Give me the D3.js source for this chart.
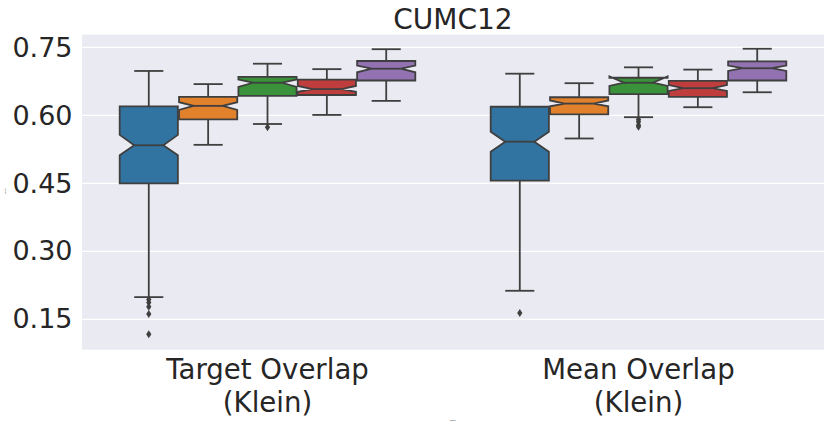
<!DOCTYPE html>
<html>
<head>
<meta charset="utf-8">
<script src="https://cdn.jsdelivr.net/npm/d3@7"></script>
<style>
  body { margin: 0; background: #fff; }
  text { font-family: "DejaVu Sans", sans-serif; fill: #262626; }
</style>
</head>
<body>
<script>
const categories = ['Target Overlap\n(Klein)', 'Mean Overlap\n(Klein)'];
const hues = ['h0', 'h1', 'h2', 'h3', 'h4'];
const colors = ['#3274a1', '#e1812c', '#3a923a', '#c03d3e', '#9372b2'];
const yTicks = [0.15, 0.30, 0.45, 0.60, 0.75];

// per category, per hue
const whiskerLow = [[0.199, 0.535, 0.581, 0.601, 0.632], [0.213, 0.549, 0.596, 0.618, 0.651]];
const q1 = [[0.450, 0.591, 0.643, 0.645, 0.677], [0.456, 0.602, 0.647, 0.641, 0.677]];
const notchLow = [[0.512, 0.612, 0.663, 0.652, 0.695], [0.520, 0.620, 0.665, 0.654, 0.698]];
const median = [[0.534, 0.621, 0.672, 0.658, 0.703], [0.542, 0.626, 0.672, 0.660, 0.704]];
const notchHigh = [[0.557, 0.629, 0.679, 0.665, 0.710], [0.564, 0.633, 0.686, 0.667, 0.710]];
const q3 = [[0.620, 0.641, 0.685, 0.679, 0.720], [0.619, 0.640, 0.683, 0.676, 0.719]];
const whiskerHigh = [[0.698, 0.669, 0.714, 0.702, 0.746], [0.692, 0.671, 0.706, 0.701, 0.747]];
const fliers = [
  [[0.194, 0.187, 0.178, 0.162, 0.117], [], [0.574], [], []],
  [[0.164], [], [0.591, 0.586, 0.579, 0.575], [], []]
];

const width = 831;
const height = 428;
const plot = { left: 82, right: 824, top: 34.7, bottom: 349.7 };
const lineColor = '#3f3f3f';

const svg = d3.select('body').append('svg')
  .attr('width', width)
  .attr('height', height);

const xScale = d3.scaleBand().domain(categories).range([plot.left, plot.right]);
const hueScale = d3.scaleBand().domain(hues).range([0, xScale.bandwidth() * 0.8]);
const yScale = d3.scaleLinear().domain([0.083, 0.778]).range([plot.bottom, plot.top]);

svg.append('rect')
  .attr('x', plot.left)
  .attr('y', plot.top)
  .attr('width', plot.right - plot.left)
  .attr('height', plot.bottom - plot.top)
  .attr('fill', '#eaeaf2');

svg.append('g')
  .selectAll('line')
  .data(yTicks)
  .join('line')
  .attr('x1', plot.left)
  .attr('x2', plot.right)
  .attr('y1', (d) => yScale(d))
  .attr('y2', (d) => yScale(d))
  .attr('stroke', '#fff')
  .attr('stroke-width', 1.3);

const yAxis = svg.append('g')
  .attr('transform', `translate(${plot.left}, 0)`)
  .call(d3.axisLeft(yScale).tickValues(yTicks).tickFormat(d3.format('.2f')).tickSize(0).tickPadding(9.5));
yAxis.select('.domain').remove();
yAxis.selectAll('text')
  .style('font-family', '"DejaVu Sans", sans-serif')
  .style('font-size', '27px')
  .attr('fill', '#262626');

const xAxis = svg.append('g')
  .attr('transform', `translate(0, ${plot.bottom})`)
  .call(d3.axisBottom(xScale).tickSize(0).tickFormat(''));
xAxis.select('.domain').remove();
xAxis.selectAll('.tick').each(function (d) {
  const t = d3.select(this).append('text')
    .attr('text-anchor', 'middle')
    .style('font-size', '27.6px');
  d.split('\n').forEach((line, i) => {
    t.append('tspan').attr('x', 0).attr('y', 29 + i * 33).text(line);
  });
});

const boxes = [];
categories.forEach((c, ci) => {
  hues.forEach((h, hi) => {
    boxes.push({ ci, hi, c, h });
  });
});

const boxGroup = svg.append('g');
boxes.forEach((b) => {
  const { ci, hi } = b;
  const slot = hueScale.bandwidth();
  const cx = xScale(b.c) + xScale.bandwidth() * 0.1 + hueScale(b.h) + slot / 2;
  const w = slot * 0.98;
  const left = cx - w / 2;
  const right = cx + w / 2;
  const capL = cx - w / 4;
  const capR = cx + w / 4;
  const g = boxGroup.append('g');

  // whiskers
  g.append('line')
    .attr('x1', cx).attr('x2', cx)
    .attr('y1', yScale(q1[ci][hi])).attr('y2', yScale(whiskerLow[ci][hi]));
  g.append('line')
    .attr('x1', cx).attr('x2', cx)
    .attr('y1', yScale(q3[ci][hi])).attr('y2', yScale(whiskerHigh[ci][hi]));
  // caps
  [whiskerLow[ci][hi], whiskerHigh[ci][hi]].forEach((v) => {
    g.append('line')
      .attr('x1', capL).attr('x2', capR)
      .attr('y1', yScale(v)).attr('y2', yScale(v));
  });
  g.selectAll('line').attr('stroke', lineColor).attr('stroke-width', 1.8);

  // notched box
  const pts = [
    [left, q1[ci][hi]], [right, q1[ci][hi]], [right, notchLow[ci][hi]], [capR, median[ci][hi]],
    [right, notchHigh[ci][hi]], [right, q3[ci][hi]], [left, q3[ci][hi]], [left, notchHigh[ci][hi]],
    [capL, median[ci][hi]], [left, notchLow[ci][hi]]
  ];
  const boxLine = d3.line().x((p) => p[0]).y((p) => yScale(p[1]));
  g.append('path')
    .attr('d', boxLine(pts) + 'Z')
    .attr('fill', colors[hi])
    .attr('stroke', lineColor)
    .attr('stroke-width', 1.8)
    .attr('stroke-linejoin', 'miter');

  // median
  g.append('line')
    .attr('x1', capL).attr('x2', capR)
    .attr('y1', yScale(median[ci][hi])).attr('y2', yScale(median[ci][hi]))
    .attr('stroke', lineColor)
    .attr('stroke-width', 1.8);

  // fliers (thin diamonds)
  g.selectAll('path.flier')
    .data(fliers[ci][hi])
    .join('path')
    .attr('class', 'flier')
    .attr('d', (v) => {
      const y = yScale(v);
      return `M${cx},${y - 4}L${cx + 2.6},${y}L${cx},${y + 4}L${cx - 2.6},${y}Z`;
    })
    .attr('fill', lineColor);
});

svg.append('text')
  .attr('x', (plot.left + plot.right) / 2)
  .attr('y', 29)
  .attr('text-anchor', 'middle')
  .style('font-size', '28px')
  .text('CUMC12');

// tiny axis labels as in the source
svg.append('text')
  .attr('transform', 'translate(6, 191) rotate(-90)')
  .attr('text-anchor', 'middle')
  .style('font-size', '2px')
  .text('score');
svg.append('text')
  .attr('x', (plot.left + plot.right) / 2)
  .attr('y', 421)
  .attr('text-anchor', 'middle')
  .style('font-size', '2px')
  .text('metric');
</script>
</body>
</html>
